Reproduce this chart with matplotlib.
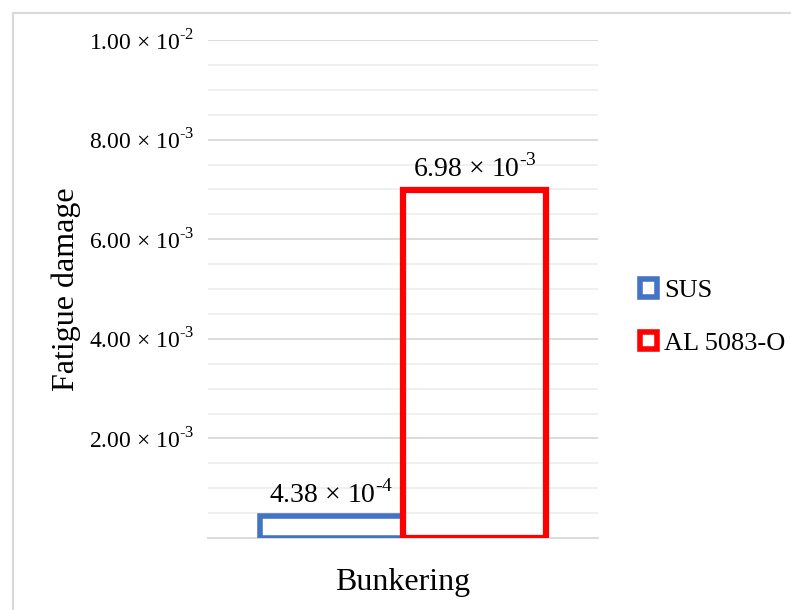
import matplotlib.pyplot as plt
import numpy as np
from matplotlib.patches import Rectangle, Patch
from matplotlib.ticker import MultipleLocator

plt.rcParams['font.family'] = ['Liberation Serif', 'DejaVu Serif']
plt.rcParams['mathtext.fontset'] = 'custom'
plt.rcParams['mathtext.rm'] = 'Liberation Serif'


def sci(mant, exp):
    # mantissa x 10 with a plain hyphen in the superscript
    return mant + ' × 10$^{\\text{-' + exp + '}}$'


category = 'Bunkering'
materials = ['SUS', 'AL 5083-O']
damage = [4.38e-4, 6.98e-3]
colors = ['#4472c4', '#ff0000']
value_labels = [sci('4.38', '4'), sci('6.98', '3')]
yticks = [2e-3, 4e-3, 6e-3, 8e-3, 1e-2]
ytick_labels = [sci('2.00', '3'), sci('4.00', '3'), sci('6.00', '3'),
                sci('8.00', '3'), sci('1.00', '2')]

fig = plt.figure(figsize=(7.91, 6.10), dpi=100)
ax = fig.add_axes([208 / 791, 1 - 538 / 610, 390 / 791, 498 / 610])

# outer frame, open to the right and bottom
fig.patches.append(Rectangle((13 / 791, -0.1), 1.2, 1.1 - 13 / 610,
                             transform=fig.transFigure, fill=False,
                             edgecolor='#d9d9d9', linewidth=1.5))

width = 0.367
offsets = [-width / 2, width / 2]
for i in range(len(materials)):
    ax.bar(offsets[i], damage[i], width=width, facecolor='none',
           edgecolor=colors[i], linewidth=4 if i == 0 else 4.5, zorder=3)
    ax.text(offsets[i], damage[i] + 1.6e-4, value_labels[i], ha='center',
            va='bottom', fontsize=20)

ax.set_xlim(-0.5, 0.5)
ax.set_ylim(0, 1e-2)
ax.set_yticks(yticks)
ax.set_yticklabels(ytick_labels, fontsize=17)
ax.yaxis.set_minor_locator(MultipleLocator(5e-4))
ax.grid(which='major', axis='y', color='#d9d9d9', linewidth=1.3, zorder=0)
ax.grid(which='minor', axis='y', color='#efefef', linewidth=1.3, zorder=0)
ax.tick_params(axis='y', which='both', length=0, pad=10)
ax.set_xticks([])
for side in ['top', 'right', 'left']:
    ax.spines[side].set_visible(False)
ax.spines['bottom'].set_color('#d9d9d9')
ax.spines['bottom'].set_linewidth(1.3)

ax.set_xlabel(category, fontsize=23)
ax.xaxis.set_label_coords(0.5, -0.06)
ax.set_ylabel('Fatigue damage', fontsize=23)
ax.yaxis.set_label_coords(-0.326, 0.5)

handles = [Patch(facecolor='white', edgecolor=c, linewidth=4) for c in colors]
fig.legend(handles, materials, loc='center left', bbox_to_anchor=(640 / 791, 1 - 317 / 610),
           frameon=False, fontsize=19, handlelength=0.65, handleheight=0.65,
           handletextpad=0.25, labelspacing=1.1, borderpad=0, borderaxespad=0)

fig.savefig('out.png', dpi=100)
